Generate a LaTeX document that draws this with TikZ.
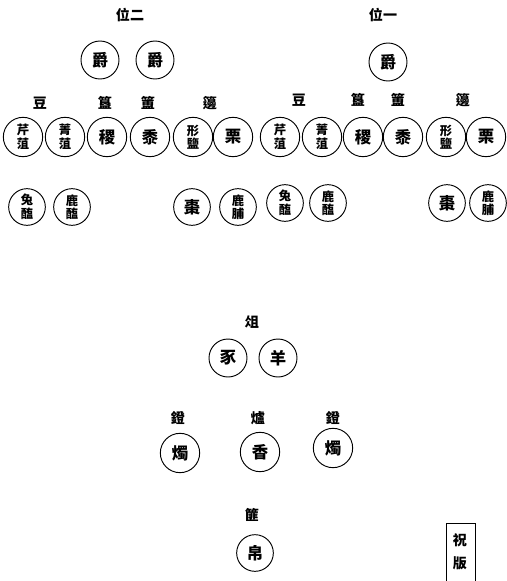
\documentclass[tikz,border=0pt]{standalone}
\usepackage{fontspec}
\newfontfamily\cjk{Noto Sans CJK TC}
\begin{document}
\begin{tikzpicture}[x=0.03cm,y=-0.03cm,
    dish/.style={draw, circle, line width=0.8pt, minimum size=1.18cm, inner sep=0pt,
      font=\cjk\bfseries\fontsize{14}{14}\selectfont},
    dishtwo/.style={dish, align=center, font=\cjk\bfseries\fontsize{10.5}{11.5}\selectfont},
    smalldish/.style={minimum size=1.1cm},
    tag/.style={font=\cjk\bfseries\fontsize{12}{12}\selectfont}]
    \useasboundingbox (0,0) rectangle (507,581);

    % Second seat (left)
    \node[tag] (weitwo) at (130,15) {位二};
    \node[dish, minimum size=1.14cm] (juetwoa) at (100,60) {爵};
    \node[dish, minimum size=1.14cm] (juetwob) at (155,60) {爵};
    \node[tag] (doutwo) at (40,103) {豆};
    \node[tag] (guitwo) at (105,103) {簋};
    \node[tag] (futwo) at (148,103) {簠};
    \node[tag] (biantwo) at (210,103) {籩};
    \node[dishtwo] (qintwo) at (23,137) {芹\\菹};
    \node[dishtwo] (jingtwo) at (65,137) {菁\\菹};
    \node[dish] (jitwo) at (107,137) {稷};
    \node[dish] (shutwo) at (150,137) {黍};
    \node[dishtwo] (yantwo) at (193,137) {形\\鹽};
    \node[dish] (litwo) at (233,137) {栗};
    \node[dishtwo, smalldish] (tuhaitwo) at (27,207) {兔\\醢};
    \node[dishtwo, smalldish] (luhaitwo) at (72,207) {鹿\\醢};
    \node[dish, smalldish] (zaotwo) at (192,207) {棗};
    \node[dishtwo, smalldish] (lufutwo) at (238,207) {鹿\\脯};

    % First seat (right)
    \node[tag] (weione) at (383,15) {位一};
    \node[dish, minimum size=1.14cm] (jueone) at (388,62) {爵};
    \node[tag] (douone) at (299,100) {豆};
    \node[tag] (guione) at (358,100) {簋};
    \node[tag] (fuone) at (398,100) {簠};
    \node[tag] (bianone) at (463,100) {籩};
    \node[dishtwo] (qinone) at (280,137) {芹\\菹};
    \node[dishtwo] (jingone) at (322,137) {菁\\菹};
    \node[dish] (jione) at (363,137) {稷};
    \node[dish] (shuone) at (403,137) {黍};
    \node[dishtwo] (yanone) at (446,137) {形\\鹽};
    \node[dish] (lione) at (486,137) {栗};
    \node[dishtwo, smalldish] (tuhaione) at (285,203) {兔\\醢};
    \node[dishtwo, smalldish] (luhaione) at (328,203) {鹿\\醢};
    \node[dish, smalldish] (zaoone) at (447,203) {棗};
    \node[dishtwo, smalldish] (lufuone) at (488,203) {鹿\\脯};

    % Stand, lamps, censer, basket
    \node[tag] (zu) at (252,322) {俎};
    \node[dish, minimum size=1.14cm] (shi) at (228,358) {豕};
    \node[dish, minimum size=1.14cm] (yang) at (278,358) {羊};
    \node[tag] (dengl) at (178,418) {鐙};
    \node[tag] (lu) at (258,418) {爐};
    \node[tag] (dengr) at (333,418) {鐙};
    \node[dish] (zhul) at (180,453) {燭};
    \node[dish] (xiang) at (260,452) {香};
    \node[dish] (zhur) at (333,448) {燭};
    \node[tag] (fei) at (252,515) {篚};
    \node[dish, smalldish] (bo) at (255,553) {帛};

    % Prayer board
    \draw[line width=0.8pt] (446,581) -- (446,523) -- (475,523) -- (475,581);
    \node[tag] (zhu) at (460,540) {祝};
    \node[tag] (ban) at (460,563) {版};
\end{tikzpicture}
\end{document}
